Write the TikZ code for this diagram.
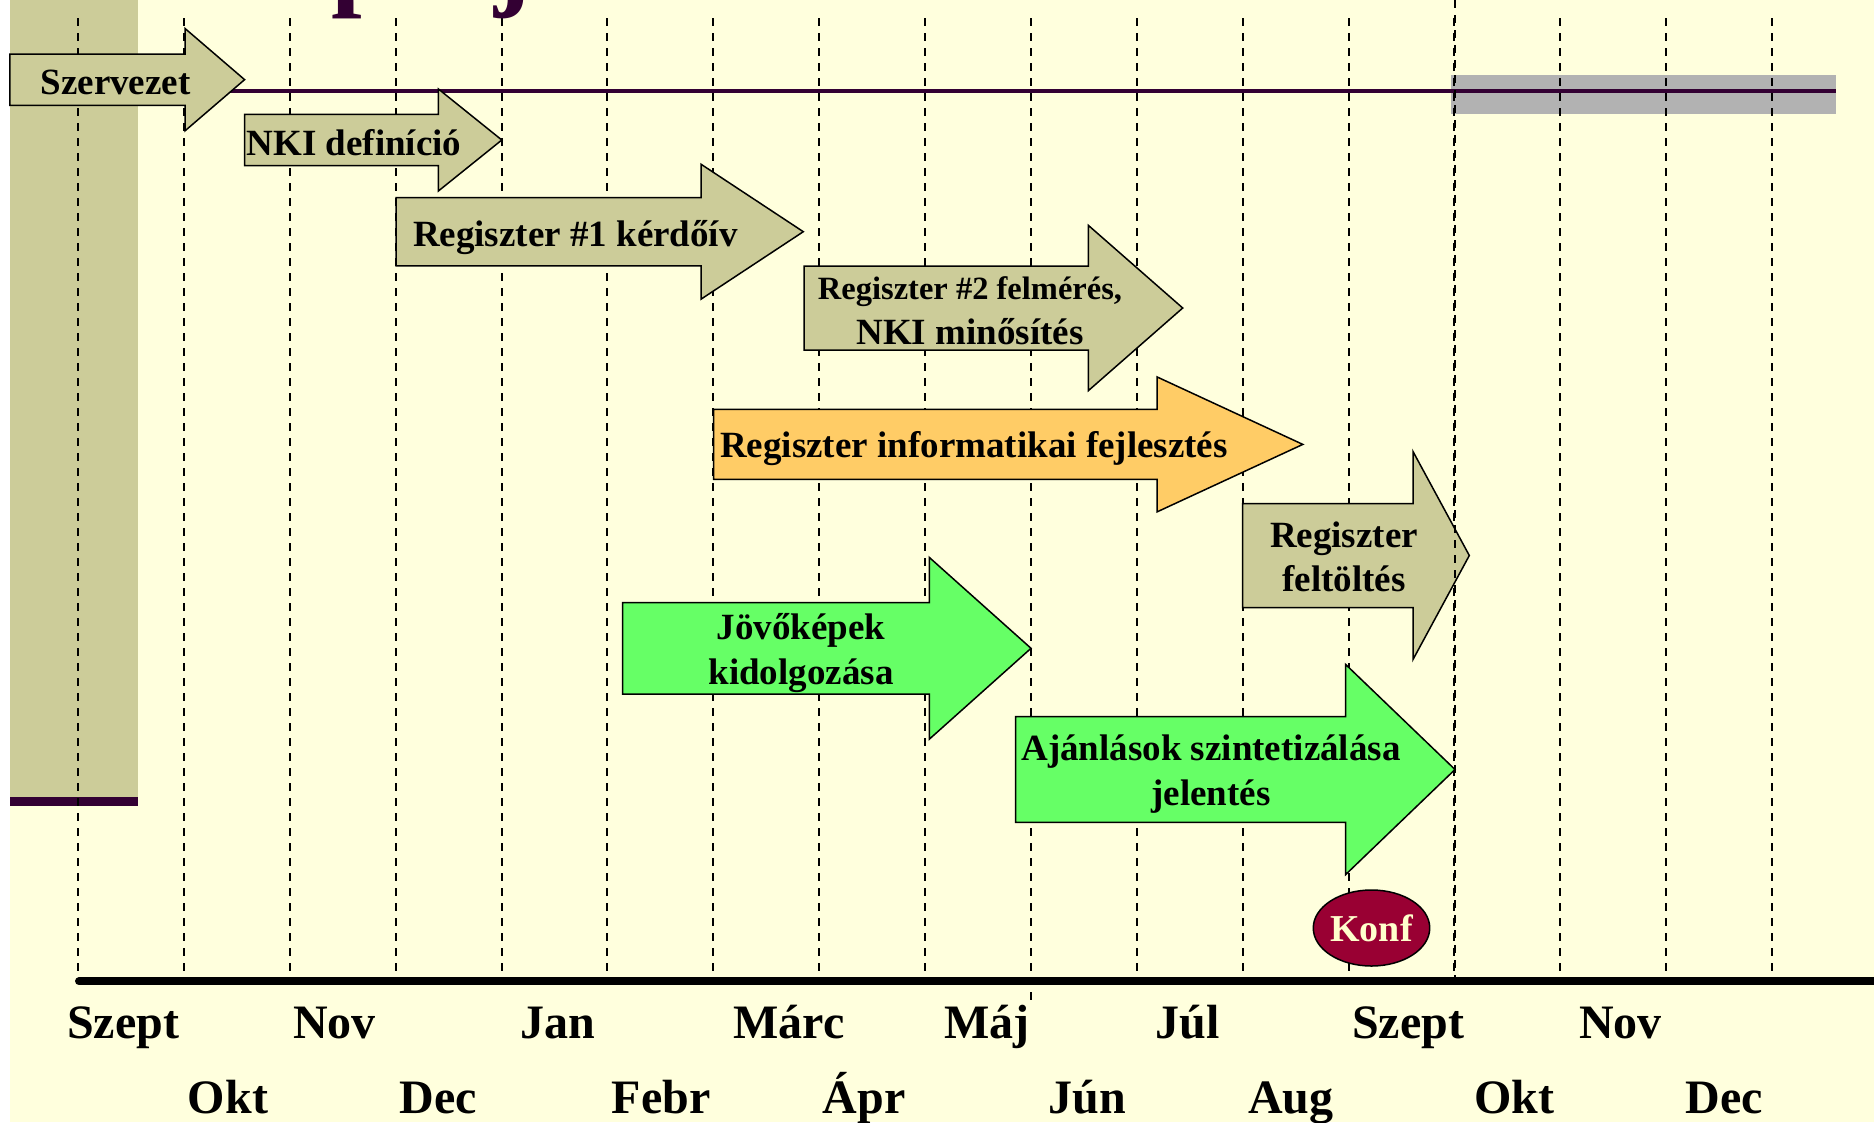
\documentclass[tikz,border=0pt]{standalone}
\usepackage{fontspec}
\setmainfont{Liberation Serif}
\usetikzlibrary{shapes.geometric}

\definecolor{cream}{HTML}{FFFFDD}
\definecolor{khaki}{HTML}{CCCC99}
\definecolor{plum}{HTML}{330033}
\definecolor{greyband}{HTML}{B2B2B2}
\definecolor{orangebox}{HTML}{FFCC66}
\definecolor{greenbox}{HTML}{66FF66}
\definecolor{konfred}{HTML}{990033}
\definecolor{konftext}{HTML}{FFFFCC}

% #1 fill, #2 left, #3 head base, #4 tip, #5 mid y, #6 half body, #7 half head
\def\phase#1#2#3#4#5#6#7{%
  \filldraw[phasebox,fill=#1] (#2,#5-#6) -- (#3,#5-#6) -- (#3,#5-#7) -- (#4,#5)
    -- (#3,#5+#7) -- (#3,#5+#6) -- (#2,#5+#6) -- cycle;}

\begin{document}
\begin{tikzpicture}[x=1pt, y=-1pt,
  phasebox/.style={draw=black, line width=1.5pt},
  phasetext/.style={font=\fontsize{37}{44.5}\selectfont\bfseries, anchor=base, inner sep=0, align=center},
  monthtext/.style={font=\fontsize{48}{48}\selectfont\bfseries, anchor=base, inner sep=0},
  gridline/.style={draw=black, line width=2pt, dash pattern=on 7.5pt off 7.5pt}]
  \useasboundingbox (0,0) rectangle (1874,1122);
  \fill[white] (0,0) rectangle (1874,1122);
  \fill[cream] (10,0) rectangle (1874,1122);

  % left band and grey band
  \fill[khaki] (10,0) rectangle (138.3,796.7);
  \fill[plum] (10,796.7) rectangle (138.3,806);
  \fill[greyband] (1451,75) rectangle (1836,114);

  % month grid
  \foreach \i in {0,...,16}
    \draw[gridline] (78.1+105.87*\i,18) -- (78.1+105.87*\i,977);
  \draw[gridline] (1031,977) -- (1031,1000);

  \coordinate (lineL) at (200,90.7);
  \coordinate (lineR) at (1836,90.7);
  \draw[plum, line width=4pt] (lineL) -- (lineR);

  % phases
  \phase{khaki}{9.8}{185}{244.6}{79.65}{25.65}{51.2}
  \phase{khaki}{244.6}{438.4}{501.8}{140}{25.7}{51}
  \phase{khaki}{396}{701}{803.3}{231.7}{34.2}{67.5}
  \phase{khaki}{804}{1088.3}{1182.7}{308}{42}{82.7}
  \phase{orangebox}{713.5}{1157}{1302.8}{444.4}{35}{67.5}
  \phase{khaki}{1242.7}{1413}{1469.3}{555.5}{52}{104}
  \phase{greenbox}{622.7}{929.3}{1031}{648.3}{45.7}{90.9}
  \phase{greenbox}{1015.7}{1345.7}{1455}{769.5}{52.8}{105}
  \draw[gridline] (1454.7,0) -- (1454.7,977);

  \node[phasetext] (szervezet) at (115.6,94.3) {Szervezet};
  \node[phasetext] (nki) at (354,155) {NKI definíció};
  \node[phasetext] (reg1) at (575.4,246.7) {Regiszter \#1 kérdőív};
  \node[phasetext] (reg2) at (970,344.3) {{\fontsize{32.5}{44}\selectfont Regiszter \#2 felmérés,}\\NKI minősítés};
  \node[phasetext] (info) at (974,457) {Regiszter informatikai fejlesztés};
  \node[phasetext] (feltolt) at (1344,591.7) {Regiszter\\feltöltés};
  \node[phasetext] (jovo) at (801,684) {Jövőképek\\kidolgozása};
  \node[phasetext] (ajanl) at (1211,805) {Ajánlások szintetizálása\\jelentés};

  \node[ellipse, draw=black, line width=1.5pt, fill=konfred, text=konftext,
    font=\fontsize{38}{38}\selectfont\bfseries, minimum width=106pt,
    minimum height=76pt, inner sep=0] (konf) at (1371.5,928) {Konf};

  % time axis
  \coordinate (axisL) at (79,981.3);
  \coordinate (axisR) at (1880,981.3);
  \draw[line width=8pt, line cap=round] (axisL) -- (axisR);

  \foreach \m/\x [count=\k] in {Szept/123, Nov/334.6, Jan/558, Márc/788.8,
      Máj/987, Júl/1188, Szept/1408, Nov/1620.6}
    \node[monthtext] (top\k) at (\x,1038) {\m};
  \foreach \m/\x [count=\k] in {Okt/228, Dec/438.6, Febr/661, Ápr/864,
      Jún/1087.6, Aug/1290.7, Okt/1514, Dec/1724.6}
    \node[monthtext] (bot\k) at (\x,1113) {\m};

  \node[anchor=base west, inner sep=0, text=plum,
    font=\fontsize{110}{110}\selectfont\bfseries] (title) at (331,-4.6) {projekt};
\end{tikzpicture}
\end{document}
